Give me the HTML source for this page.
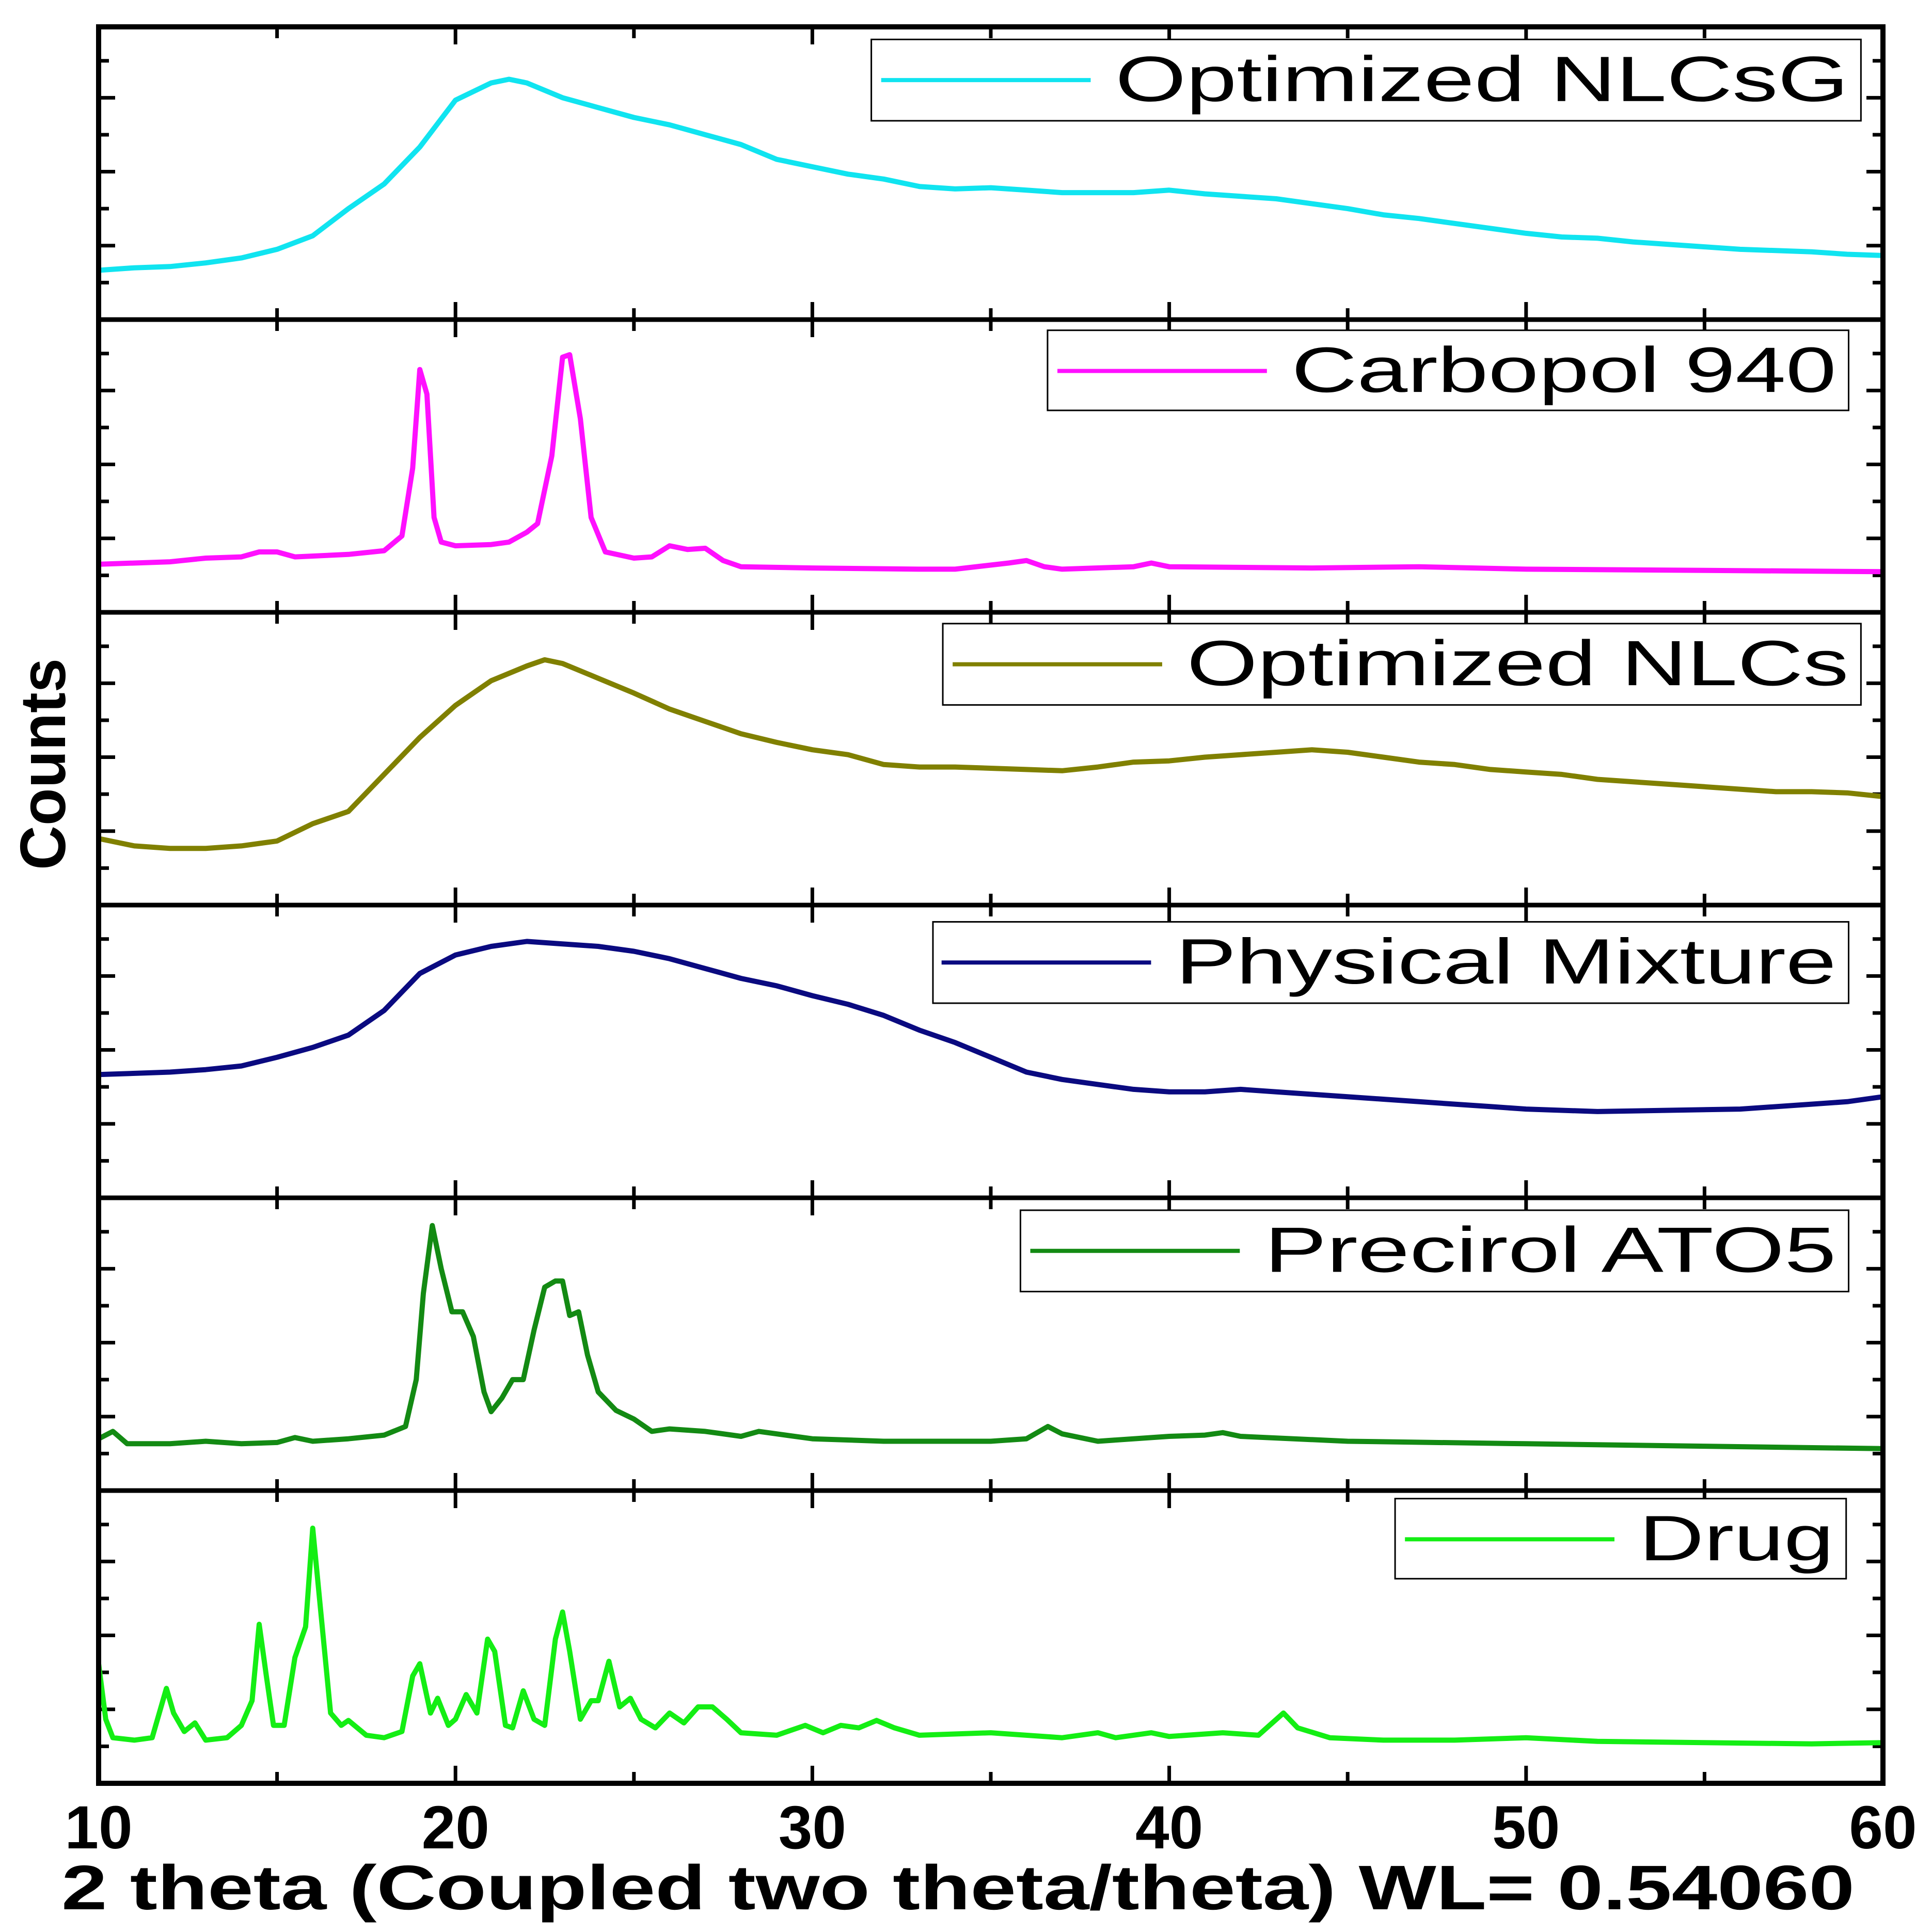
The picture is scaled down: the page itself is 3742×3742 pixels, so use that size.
<!DOCTYPE html>
<html><head><meta charset="utf-8"><style>html,body{margin:0;padding:0;background:#fff}svg{display:block}</style></head>
<body>
<svg id="chart" xmlns="http://www.w3.org/2000/svg" width="3742" height="3742" viewBox="0 0 3742 3742" font-family="Liberation Sans, Arial, sans-serif"></svg>
<script>
const xTickLabels = ["10","20","30","40","50","60"];
const xTickValues = [10,20,30,40,50,60];
const seriesNames = ["Optimized NLCsG","Carbopol 940","Optimized NLCs","Physical Mixture","Precirol ATO5","Drug"];
const x1 = [10,11,12,13,14,15,16,17,18,19,20,21,21.5,22,23,24,25,26,27,28,29,30,31,32,33,34,35,36,37,38,39,40,41,42,43,44,45,46,47,48,49,50,51,52,53,54,55,56,57,58,59,60];
const y1 = [40,42,43,46,50,57,68,90,110,140,178,192,195,192,180,172,164,158,150,142,130,124,118,114,108,106,107,105,103,103,103,105,102,100,98,94,90,85,82,78,74,70,67,66,63,61,59,57,56,55,53,52];
const x2 = [10,12,13,14,14.5,15,15.5,17,18,18.5,18.8,19.0,19.2,19.4,19.6,20,21,21.5,22,22.3,22.7,23.0,23.2,23.5,23.8,24.2,25,25.5,26,26.5,27,27.5,28,30,33,34,35.5,36,36.5,37,39,39.5,40,44,47,50,55,60];
const y2 = [39,41,44,45,49,49,45,47,50,62,117,197,177,77,57,54,55,57,65,72,127,207,209,157,77,49,44,45,54,51,52,42,37,36,35,35,40,42,37,35,37,40,37,36,37,35,34,33];
const x3 = [10,11,12,13,14,15,16,17,18,19,20,21,22,22.5,23,24,25,26,27,28,29,30,31,32,33,34,35,36,37,38,39,40,41,42,43,44,45,46,47,48,49,50,51,52,53,54,55,56,57,58,59,60];
const y3 = [54,48,46,46,48,52,66,76,106,136,162,182,194,199,196,184,172,159,149,139,132,126,122,114,112,112,111,110,109,112,116,117,120,122,124,126,124,120,116,114,110,108,106,102,100,98,96,94,92,92,91,88];
const x4 = [10,12,13,14,15,16,17,18,19,20,21,22,23,24,25,26,27,28,29,30,31,32,33,34,35,36,37,38,39,40,41,42,43,44,45,46,47,48,49,50,52,54,56,58,59,60];
const y4 = [100,102,104,107,114,122,132,152,182,197,204,208,206,204,200,194,186,178,172,164,157,148,136,126,114,102,96,92,88,86,86,88,86,84,82,80,78,76,74,72,70,71,72,76,78,82];
const x5 = [10,10.4,10.8,12,13,14,15,15.5,16,17,18,18.6,18.9,19.1,19.35,19.6,19.9,20.2,20.5,20.8,21.0,21.3,21.6,21.9,22.2,22.5,22.8,23.0,23.2,23.45,23.7,24.0,24.5,25,25.5,26,27,28,28.5,29,30,32,35,36,36.6,37,38,40,41,41.5,42,45,50,55,60];
const y5 = [42,48,38,38,40,38,39,43,40,42,45,52,90,160,215,180,145,145,125,80,64,75,90,90,130,165,170,170,142,145,110,80,65,58,48,50,48,44,48,46,42,40,40,42,52,46,40,44,45,47,44,40,38,36,34];
const x6 = [10,10.2,10.4,11,11.5,11.9,12.1,12.4,12.7,13,13.6,14,14.3,14.5,14.7,14.9,15.2,15.5,15.8,16.0,16.2,16.5,16.8,17,17.5,18,18.5,18.8,19,19.3,19.5,19.8,20,20.3,20.6,20.9,21.1,21.4,21.6,21.9,22.2,22.5,22.8,23.0,23.2,23.5,23.8,24.0,24.3,24.6,24.9,25.2,25.6,26,26.4,26.8,27.2,27.6,28,29,29.8,30.3,30.8,31.3,31.8,32.3,33,35,37,38,38.5,39.5,40,41.5,42.5,43.2,43.6,44.5,46,48,50,52,55,58,60];
const y6 = [97,52,37,35,37,77,57,42,49,35,37,47,67,129,87,47,47,102,127,207,147,57,47,51,39,37,42,87,97,57,69,47,52,72,57,117,107,47,45,75,52,47,117,139,107,52,67,67,99,62,69,52,45,57,49,62,62,52,41,39,47,41,47,45,51,45,39,41,37,41,37,41,38,41,39,57,45,37,35,35,37,34,33,32,33];
const xsAll = [x1,x2,x3,x4,x5,x6];
const ysAll = [y1,y2,y3,y4,y5,y6];
const colors = ["#10e4f0","#ff10ff","#808000","#0a0a80","#138a13","#14ee14"];
const NS = "http://www.w3.org/2000/svg";
const svg = document.getElementById('chart');
const S = 2.387;
const L = 191, R = 3647, TOP = 52, PH = 567;
const xs = v => L + (v - 10) / 50 * (R - L);
function mk(tag, attrs, parent) { const e = document.createElementNS(NS, tag); for (const k in attrs) e.setAttribute(k, attrs[k]); (parent || svg).appendChild(e); return e; }
const legendBoxes = [[707,32,1510,98,715,885,905,1500],[850,268,1500,333,858,1028,1048,1490],[765,506,1510,572,773,943,963,1500],[757,748,1500,814,764,934,954,1490],[828,982,1500,1048,836,1006,1026,1490],[1132,1216,1498,1281,1140,1310,1330,1488]];
for (let p = 0; p < 6; p++) {
  const top = TOP + p * PH, bot = top + PH;
  const ys = v => bot - v / 237.5 * PH;
  const g = mk('g', {});
  
  
  for (let k = 1; k <= 7; k++) {
    const yy = bot - k * 30 * S; const len = (k % 2 === 0) ? 32 : 20;
    mk('line', {x1: L, x2: L + len, y1: yy, y2: yy, stroke: '#000', 'stroke-width': 7}, g);
    mk('line', {x1: R, x2: R - len, y1: yy, y2: yy, stroke: '#000', 'stroke-width': 7}, g);
  }
  for (let v = 15; v < 60; v += 5) {
    const len = (v % 10 === 0) ? 34 : 22;
    mk('line', {x1: xs(v), x2: xs(v), y1: bot, y2: bot - len, stroke: '#000', 'stroke-width': 7}, g);
    mk('line', {x1: xs(v), x2: xs(v), y1: top, y2: top + len, stroke: '#000', 'stroke-width': 7}, g);
  }
  const X = xsAll[p], Y = ysAll[p];
  let d = '';
  for (let i = 0; i < X.length; i++) d += (i ? 'L' : 'M') + xs(X[i]).toFixed(1) + ',' + ys(Y[i]).toFixed(1);
  const path = mk('path', {d: d, fill: 'none', stroke: colors[p], 'stroke-width': 10, 'stroke-linejoin': 'round'}, g);
  
  
  const b = legendBoxes[p];
  const lg = mk('g', {}, g);
  
  
  mk('rect', {x: b[0]*S, y: b[1]*S, width: (b[2]-b[0])*S, height: (b[3]-b[1])*S, fill: '#fff', stroke: '#000', 'stroke-width': 3}, lg);
  const ly = (b[1] + 33) * S;
  mk('line', {x1: b[4]*S, x2: b[5]*S, y1: ly, y2: ly, stroke: colors[p], 'stroke-width': 8}, lg);
  const t = mk('text', {x: b[6]*S, y: (b[1] + 50) * S, 'font-size': 124, textLength: (b[7]-b[6])*S, lengthAdjust: 'spacingAndGlyphs', fill: '#000'}, lg);
  t.textContent = seriesNames[p];
  if (p > 0) mk('line', {x1: L, x2: R, y1: top, y2: top, stroke: '#000', 'stroke-width': 9});
}
const frame = mk('rect', {x: L, y: TOP, width: R - L, height: 6 * PH, fill: 'none', stroke: '#000', 'stroke-width': 10});


for (let i = 0; i < xTickValues.length; i++) {
  const t = mk('text', {x: xs(xTickValues[i]), y: 3580, 'font-size': 118, 'font-weight': 'bold', 'text-anchor': 'middle'});
  
  
  t.textContent = xTickLabels[i];
}
const xt = mk('text', {x: 119, y: 3698, 'font-size': 122, 'font-weight': 'bold', textLength: 3473, lengthAdjust: 'spacingAndGlyphs'});


xt.textContent = '2 theta (Coupled two theta/theta) WL= 0.54060';
const yt = mk('text', {x: 0, y: 0, 'font-size': 124, 'font-weight': 'bold', 'text-anchor': 'middle', textLength: 410, lengthAdjust: 'spacingAndGlyphs', transform: 'translate(126,1480) rotate(-90)'});


yt.textContent = 'Counts';
</script>
</body></html>
